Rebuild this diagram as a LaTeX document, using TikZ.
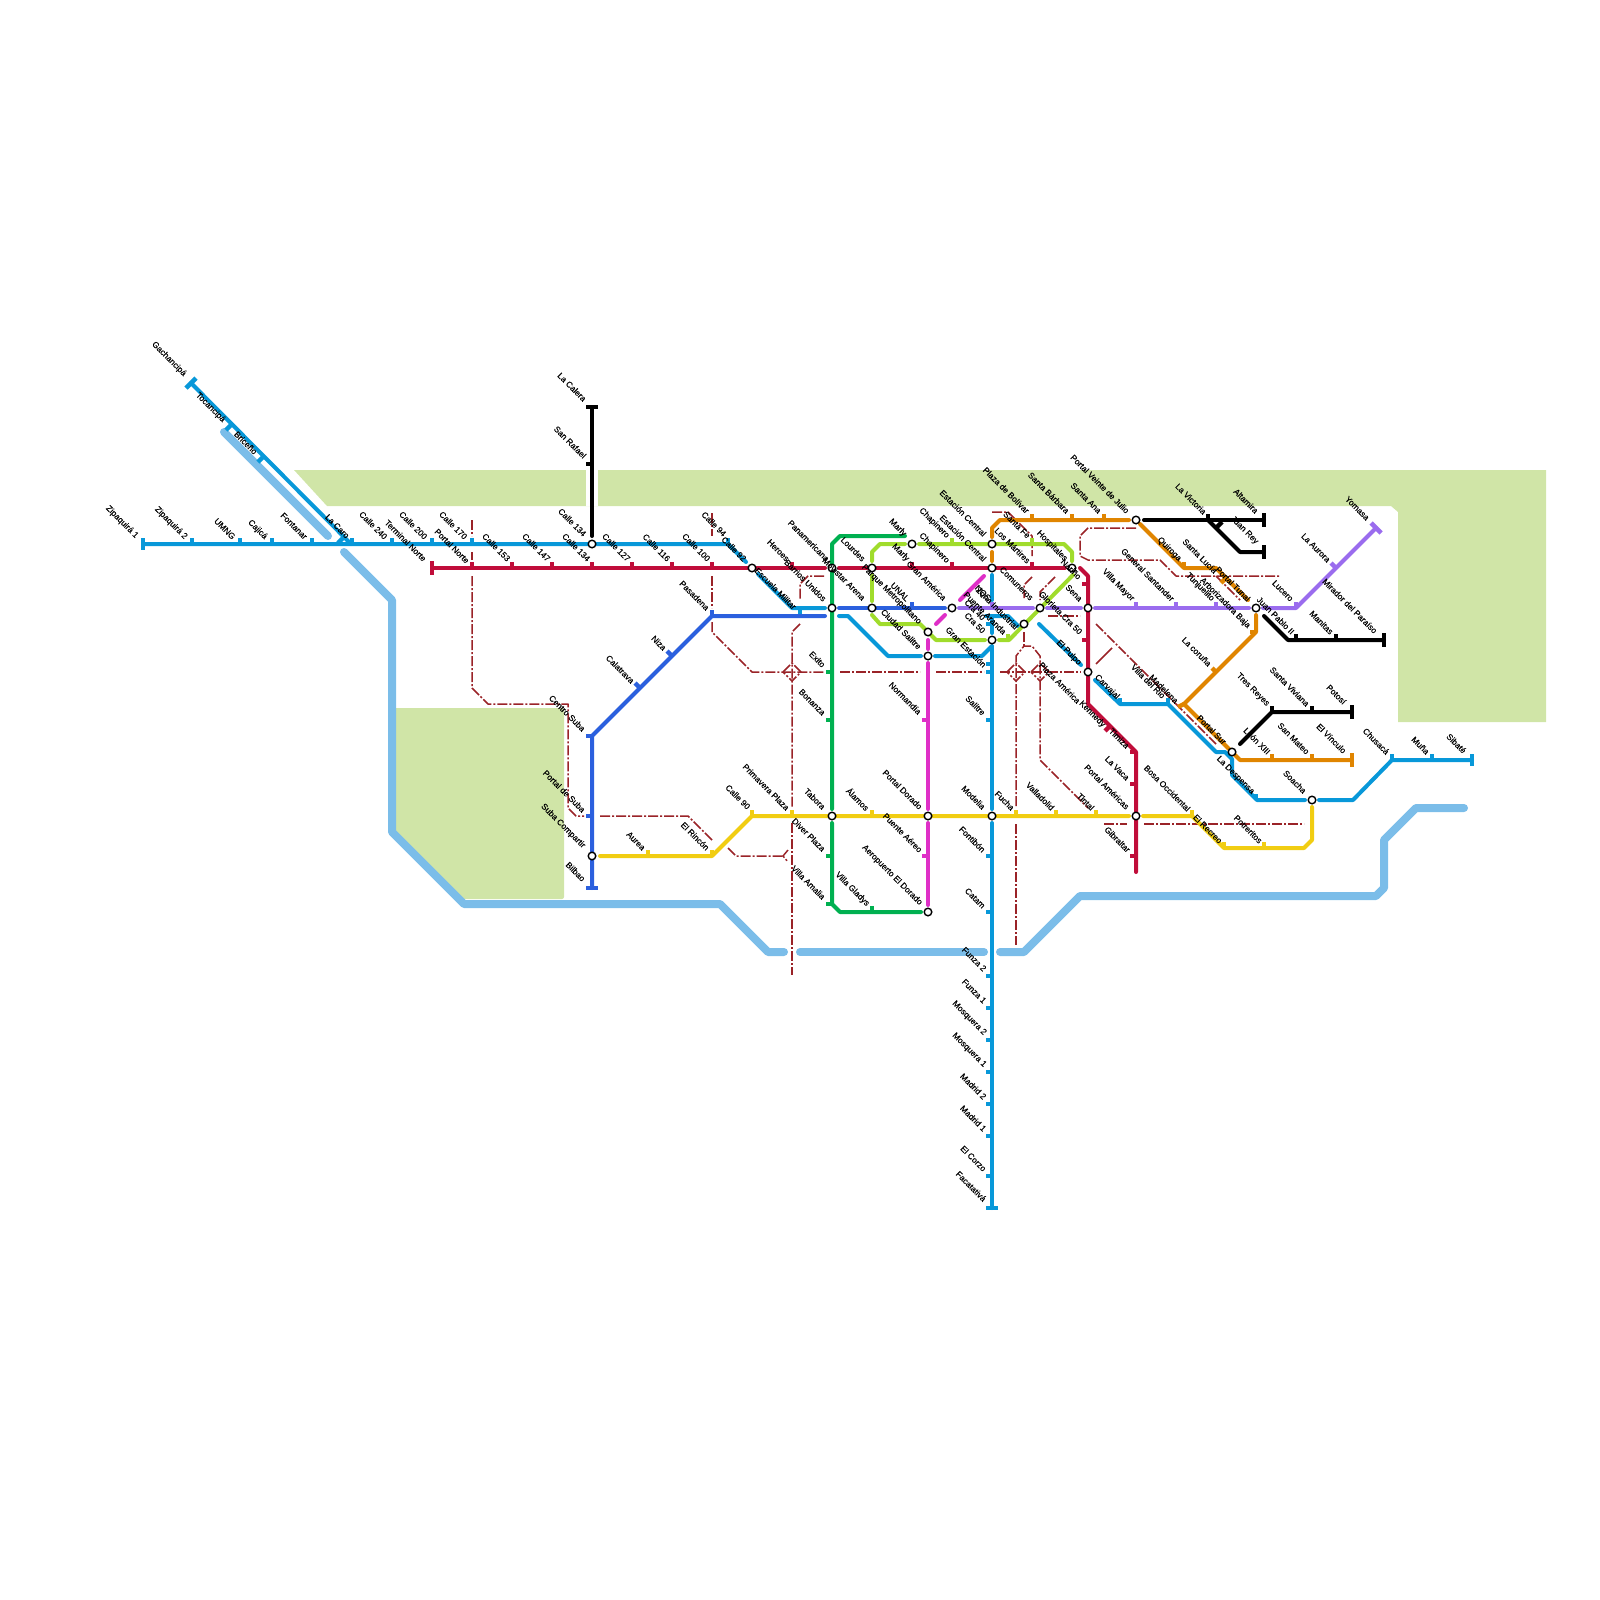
\documentclass[tikz,border=0pt]{standalone}
\usepackage{fontspec}
\setmainfont{Liberation Sans}
\newfontface\labfont{Liberation Sans}[FakeBold=0.2]
\definecolor{cband}{HTML}{D0E5A7}
\definecolor{criver}{HTML}{7BBDE9}
\definecolor{cblue}{HTML}{0898D9}
\definecolor{cnavy}{HTML}{2B60DE}
\definecolor{cred}{HTML}{C00D3A}
\definecolor{cyel}{HTML}{F1CD12}
\definecolor{cgreen}{HTML}{00B050}
\definecolor{cmag}{HTML}{DF2FC7}
\definecolor{cpur}{HTML}{9A6CEE}
\definecolor{clime}{HTML}{A0DC2C}
\definecolor{corg}{HTML}{E08500}
\definecolor{cdash}{HTML}{9A2328}
\tikzset{
 river/.style={draw=criver,line width=8pt,line cap=round,line join=round},
 rail/.style={line width=4pt,line cap=round,line join=round},
 stub/.style={line width=4.4pt,line cap=butt},
 endbar/.style={line width=4.6pt,line cap=butt},
 dashl/.style={draw=cdash,line width=1.5pt,line join=round,dash pattern=on 10pt off 2pt on 2pt off 2pt},
 hub/.style={circle,draw=black,fill=white,line width=1.4pt,minimum size=7.6pt,inner sep=0pt},
 lab/.style={rotate=-45,inner sep=0pt,font=\labfont\fontsize{8.4}{9}\selectfont,text=black,anchor=east}
}
\begin{document}
\begin{tikzpicture}[x=1pt,y=-1pt]
\useasboundingbox (0,0) rectangle (1600,1600);
% land
\fill[cband] (294,470) -- (1546,470) -- (1546,722) -- (1398,722) -- (1398,512) -- (1391,506) -- (327,506) -- cycle;
\fill[white] (586,470) rectangle (598,506);
\fill[cband,rounded corners=2pt] (394,708) -- (564,708) -- (564,899) -- (459,899) -- (394,834) -- cycle;
% river
\draw[river] (224,432) -- (328,536);
\draw[river] (344,552) -- (392,600) -- (392,832) -- (464,904) -- (720,904) -- (768,952) -- (784,952);
\draw[river] (800,952) -- (984,952);
\draw[river] (1000,952) -- (1024,952) -- (1080,896) -- (1376,896) -- (1384,888) -- (1384,840) -- (1416,808) -- (1464,808);
% dash-dot lines
\draw[dashl] (472,520) -- (472,536);
\draw[dashl] (472,552) -- (472,560);
\draw[dashl] (472,576) -- (472,688) -- (488,704) -- (568,704) -- (568,808) -- (576,816) -- (584,816);
\draw[dashl] (600,816) -- (688,816) -- (712,840);
\draw[dashl] (728,848) -- (736,856) -- (783,856);
\draw[dashl] (788,850) -- (783,856) -- (788,862);
\draw[dashl] (712,513) -- (712,536);
\draw[dashl] (712,576) -- (712,608);
\draw[dashl] (712,622) -- (712,632) -- (752,672) -- (824,672);
\draw[dashl] (840,672) -- (920,672);
\draw[dashl] (936,672) -- (984,672);
\draw[dashl] (1000,672) -- (1081,672);
\draw[dashl] (800,624) -- (792,632) -- (792,808);
\draw[dashl] (792,823) -- (792,975);
\draw[dashl] (783,672) -- (792,663) -- (801,672) -- (792,681) -- cycle;
\draw[dashl] (1007,672) -- (1016,663) -- (1025,672) -- (1016,681) -- cycle;
\draw[dashl] (1031,672) -- (1040,663) -- (1049,672) -- (1040,681) -- cycle;
\draw[dashl] (824,576) -- (808,576) -- (800,584) -- (800,600);
\draw[dashl] (1024,632) -- (1024,646);
\draw[dashl] (1016,806) -- (1016,656) -- (1024,646) -- (1032,646) -- (1040,656) -- (1040,760) -- (1088,808);
\draw[dashl] (1016,824) -- (1016,945);
\draw[dashl] (992,512) -- (1008,512) -- (1032,536) -- (1032,556);
\draw[dashl] (1032,577) -- (1024,585) -- (1024,598);
\draw[dashl] (1055,577) -- (1040,592) -- (1040,600);
\draw[dashl] (1048,616) -- (1080,616);
\draw[dashl] (1096,624) -- (1216,744);
\draw[draw=cdash,line width=1.5pt] (1096,664) -- (1112,648);
\draw[dashl] (1136,528) -- (1088,528) -- (1080,536) -- (1080,556) -- (1088,560) -- (1160,560) -- (1176,576) -- (1280,576);
\draw[dashl] (1216,576) -- (1240,600);
\draw[dashl] (1104,824) -- (1127,824);
\draw[dashl] (1144,824) -- (1304,824);
% blue
\draw[rail,cblue] (143,544) -- (728,544) -- (746,562);
\draw[rail,cblue] (758,574) -- (792,608) -- (825,608);
\draw[rail,cblue] (191,383) -- (351,544);
\draw[stub,cblue] (344,537) -- (338,543);
\draw[rail,cblue] (839,616) -- (848,616) -- (888,656) -- (921,656);
\draw[rail,cblue] (935,656) -- (982,656) -- (992,646);
\draw[rail,cblue] (992,575) -- (992,600);
\draw[rail,cblue] (986,616) -- (1008,616) -- (1018,626);
\draw[rail,cblue] (992,616) -- (992,633);
\draw[rail,cblue] (992,647) -- (992,809);
\draw[rail,cblue] (992,823) -- (992,1208);
\draw[rail,cblue] (1039,624) -- (1081,665);
\draw[rail,cblue] (1095,680) -- (1120,704) -- (1168,704) -- (1216,752) -- (1225,752) -- (1232,759) -- (1232,775) -- (1257,800) -- (1305,800);
\draw[rail,cblue] (1319,800) -- (1353,800) -- (1392,760) -- (1472,760);
\foreach \x/\y in {192/544,240/544,272/544,312/544,352/544,392/544,432/544,472/544,728/544,1120/704,1168/704,1256/800,1392/760,1432/760}
  \draw[stub,cblue] (\x,\y) -- ++(0,-6);
\foreach \x/\y in {992/664,992/672,992/624,992/720,992/856,992/912,992/976,992/1008,992/1040,992/1072,992/1104,992/1136,992/1176}
  \draw[stub,cblue] (\x,\y) -- ++(-6,0);
\draw[stub,cblue] (232,424) -- ++(-6,6);
\draw[stub,cblue] (264,456) -- ++(-6,6);
\draw[stub,cblue] (800,608) -- (800,616);
\draw[endbar,cblue] (143,538) -- (143,550);
\draw[endbar,cblue] (186,388) -- (196,378);
\draw[endbar,cblue] (986,1208) -- (998,1208);
\draw[endbar,cblue] (1472,754) -- (1472,766);
% orange
\draw[rail,corg] (992,537) -- (992,528) -- (1000,520) -- (1129,520);
\draw[rail,corg] (992,552) -- (992,561);
\draw[rail,corg] (1140,524) -- (1184,568) -- (1216,568) -- (1248,600);
\draw[rail,corg] (1256,615) -- (1256,632) -- (1184,704);
\draw[rail,corg] (1184,704) -- (1232,752) -- (1240,760) -- (1352,760);
\foreach \x/\y in {1032/520,1072/520,1104/520,1272/760,1312/760}
  \draw[stub,corg] (\x,\y) -- ++(0,-6);
\draw[stub,corg] (1184,568) -- ++(0,-6);
\draw[stub,corg] (1256,632) -- ++(-6,0);
\draw[stub,corg] (1216,672) -- ++(-4,-4);
\draw[stub,corg] (1226,578) -- ++(-5,5);
\draw[stub,corg] (1184,704) -- ++(-6,3);
\draw[endbar,corg] (1352,753) -- (1352,767);
% black
\draw[rail,black] (592,407) -- (592,536);
\draw[stub,black] (592,464) -- ++(-6,0);
\draw[endbar,black] (586,407) -- (598,407);
\draw[rail,black] (1144,520) -- (1264,520);
\draw[rail,black] (1208,520) -- (1240,552) -- (1264,552);
\draw[stub,black] (1208,520) -- ++(0,-6);
\draw[stub,black] (1216,528) -- (1222,522);
\draw[endbar,black] (1264,513) -- (1264,527);
\draw[endbar,black] (1264,545) -- (1264,559);
\draw[rail,black] (1264,616) -- (1288,640) -- (1384,640);
\draw[stub,black] (1296,640) -- ++(0,-6);
\draw[stub,black] (1336,640) -- ++(0,-6);
\draw[endbar,black] (1384,633) -- (1384,647);
\draw[rail,black] (1240,744) -- (1272,712) -- (1352,712);
\draw[stub,black] (1272,712) -- ++(0,-6);
\draw[stub,black] (1312,712) -- ++(0,-6);
\draw[endbar,black] (1352,705) -- (1352,719);
% purple
\draw[rail,cpur] (959,608) -- (1033,608);
\draw[rail,cpur] (1047,608) -- (1081,608);
\draw[rail,cpur] (1095,608) -- (1249,608);
\draw[rail,cpur] (1263,608) -- (1296,608) -- (1376,528);
\foreach \x/\y in {992/608,1136/608,1176/608,1216/608,1296/608}
  \draw[stub,cpur] (\x,\y) -- ++(0,-6);
\draw[stub,cpur] (1336,568) -- ++(-5,-5);
\draw[endbar,cpur] (1371,523) -- (1381,533);
% navy
\draw[rail,cnavy] (825,616) -- (712,616) -- (592,736) -- (592,888);
\draw[rail,cnavy] (839,608) -- (945,608);
\foreach \x/\y in {712/616,912/608}
  \draw[stub,cnavy] (\x,\y) -- ++(0,-6);
\foreach \x/\y in {592/736,592/816}
  \draw[stub,cnavy] (\x,\y) -- ++(-6,0);
\draw[stub,cnavy] (672,656) -- ++(-5,-5);
\draw[stub,cnavy] (640,688) -- ++(-5,-5);
\draw[endbar,cnavy] (586,888) -- (598,888);
% lime
\draw[rail,clime] (872,561) -- (872,552) -- (880,544) -- (905,544);
\draw[rail,clime] (919,544) -- (1064,544) -- (1072,552) -- (1072,561);
\draw[rail,clime] (872,575) -- (872,601);
\draw[rail,clime] (1073,575) -- (1009,640) -- (999,640);
\draw[rail,clime] (872,615) -- (880,624) -- (920,624) -- (936,640) -- (985,640);
\foreach \x/\y in {952/544,1032/544,1008/640}
  \draw[stub,clime] (\x,\y) -- ++(0,-6);
% red
\draw[rail,cred] (432,568) -- (825,568);
\draw[rail,cred] (839,568) -- (1065,568);
\draw[rail,cred] (1080,568) -- (1088,576) -- (1088,704) -- (1136,752) -- (1136,872);
\foreach \x/\y in {472/568,512/568,552/568,592/568,632/568,672/568,712/568,792/568,912/568,952/568,1032/568}
  \draw[stub,cred] (\x,\y) -- ++(0,-6);
\foreach \x/\y in {1088/584,1088/640,1136/752,1136/784,1136/856}
  \draw[stub,cred] (\x,\y) -- ++(-6,0);
\draw[stub,cred] (1110,726) -- ++(-5,5);
\draw[endbar,cred] (432,561) -- (432,575);
% green
\draw[rail,cgreen] (905,536) -- (840,536) -- (832,544) -- (832,809);
\draw[rail,cgreen] (832,823) -- (832,904) -- (840,912) -- (921,912);
\foreach \x/\y in {832/672,832/720,832/856,832/904}
  \draw[stub,cgreen] (\x,\y) -- ++(-6,0);
\draw[stub,cgreen] (872,912) -- ++(0,-6);
% magenta
\draw[rail,cmag] (984,576) -- (960,600);
\draw[rail,cmag] (945,615) -- (936,624);
\draw[rail,cmag] (928,640) -- (928,649);
\draw[rail,cmag] (928,663) -- (928,809);
\draw[rail,cmag] (928,823) -- (928,905);
\foreach \x/\y in {928/720,928/856}
  \draw[stub,cmag] (\x,\y) -- ++(-6,0);
% yellow
\draw[rail,cyel] (600,856) -- (712,856) -- (752,816) -- (1129,816);
\draw[rail,cyel] (1143,816) -- (1192,816) -- (1224,848) -- (1304,848) -- (1312,840) -- (1312,807);
\foreach \x/\y in {648/856,712/856,752/816,792/816,872/816,1016/816,1056/816,1096/816,1192/816,1224/848,1264/848}
  \draw[stub,cyel] (\x,\y) -- ++(0,-6);
% interchange stations
\foreach \x/\y in {592/544,752/568,832/568,832/608,872/568,872/608,912/544,952/608,928/632,928/656,992/544,992/568,992/640,1024/624,1040/608,1072/568,1088/608,1088/672,1136/520,1256/608,1232/752,1312/800,1136/816,832/816,928/816,992/816,928/912,592/856}
  \node[hub] (h\x x\y) at (\x,\y) {};
% station names
\foreach \x/\y/\t in {185/375/Gachancipá,224/421/Tocancipá,256/453/Briceño,137/537/Zipaquirá 1,186/538/Zipaquirá 2,234/538/UMNG,266/538/Cajicá,306/538/Fontanar,348/537/La Caro,386/538/Calle 240,426/538/Calle 200,466/538/Calle 170,425/560/Terminal Norte,468/562/Portal Norte,509/560/Calle 153,549/560/Calle 147,589/560/Calle 134,629/560/Calle 127,669/560/Calle 116,709/560/Calle 100,585/535/Calle 134,585/400/La Calera,585/457/San Rafael,725/535/Calle 94,745/560/Calle 92,795/608/Escuela Militar,788/560/Heroes,825/600/Barrios Unidos,828/560/Panamericana,708/609/Pasadena,665/649/Niza,633/682/Calatrava,584/730/Centro Suba,584/811/Portal de Suba,584/847/Suba Compartir,584/880/Bilbao,644/849/Aurea,708/849/El Rincón,749/808/Calle 90,788/809/Primavera Plaza,824/808/Tabora,824/850/Diver Plaza,824/898/Villa Amalia,868/905/Villa Gladys,868/809/Álamos,824/666/Exito,824/714/Bonanza,905/535/Marly,908/560/Marly,864/560/Lourdes,864/599/Movistar Arena,920/623/Parque Metropolitano,908/600/UNAL,920/648/Ciudad Salitre,945/599/Gran América,948/537/Chapinero,948/562/Chapinero,985/535/Estación Central,985/560/Estación Central,1029/537/Santa Fe,1029/562/Los Mártires,1066/560/Hospitales,1080/578/Nariño,1028/512/Plaza de Bolívar,1068/512/Santa Bárbara,1100/512/Santa Ana,1128/512/Portal Veinte de Julio,1032/599/Comuneros,1017/628/Zona Industrial,989/600/NQS,1005/633/Puente Aranda,984/619/Cra 40,984/632/Cra 50,985/666/Gran Estación,1081/633/Glorieta Cra 50,1081/600/Sena,1080/664/El Pulpo,920/713/Normandía,984/714/Salitre,1079/702/Plaza América,1104/726/Kennedy,1118/698/Carvajal,1133/600/Villa Mayor,1173/600/General Santander,1213/600/Tunjuelito,1249/627/Arborizadora Baja,1292/600/Lucero,1329/561/La Aurora,1368/519/Yomasa,1293/633/Juan Pablo II,1332/633/Manitas,1376/632/Mirador del Paraíso,1205/513/La Victoria,1257/512/Altamira,1257/543/Juan Rey,1180/560/Quiroga,1216/572/Santa Lucía,1249/600/Portal Tunal,1210/665/La coruña,1177/702/Madelena,1164/697/Villa del Rio,1225/743/Portal Sur,1253/793/La Despensa,1305/792/Soacha,1268/705/Tres Reyes,1308/705/Santa Viviana,1345/703/Potosí,1269/753/León XIII,1308/753/San Mateo,1345/752/El Vínculo,1388/753/Chusacá,1428/753/Muña,1465/752/Sibaté,1189/810/Bosa Occidental,1221/842/El Recreo,1261/842/Potreritos,1129/851/Gibraltar,1128/747/Timiza,1128/779/La Vaca,1128/808/Portal Américas,1093/809/Tintal,1053/809/Valladolid,1013/809/Fucha,984/808/Modelia,921/808/Portal Dorado,921/851/Puente Aéreo,921/904/Aeropuerto El Dorado,984/851/Fontibón,984/907/Catam,985/970/Funza 2,985/1002/Funza 1,985/1034/Mosquera 2,985/1066/Mosquera 1,985/1098/Madrid 2,985/1130/Madrid 1,985/1170/El Corzo,985/1200/Facatativá}
  \node[lab] (n\x x\y) at (\x,\y) {\t};
\end{tikzpicture}
\end{document}
